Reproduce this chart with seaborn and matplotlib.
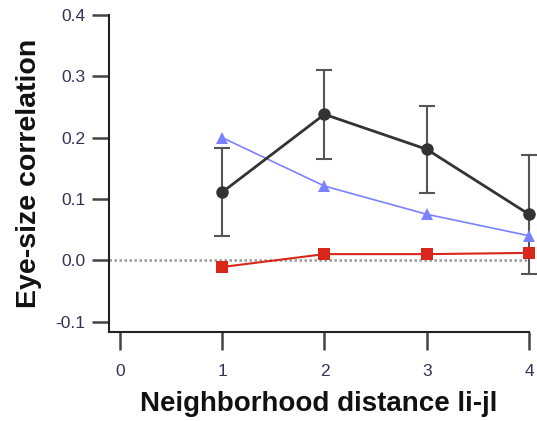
import numpy as np
import pandas as pd
import matplotlib
matplotlib.use("Agg")
import matplotlib.pyplot as plt
import seaborn as sns

# values
distance   = [1, 2, 3, 4]
corr_black = [0.111, 0.238, 0.181, 0.075]
err_black  = [0.072, 0.073, 0.071, 0.097]
corr_blue  = [0.200, 0.121, 0.075, 0.040]
corr_red   = [-0.011, 0.010, 0.010, 0.012]

x_ticks = [0, 1, 2, 3, 4]
y_ticks = [-0.1, 0.0, 0.1, 0.2, 0.3, 0.4]

sns.set_style("ticks")
plt.rcParams['font.family'] = ['Liberation Sans', 'DejaVu Sans']

df = pd.DataFrame({
    "distance": distance * 3,
    "corr": corr_black + corr_blue + corr_red,
    "series": ["black"] * 4 + ["blue"] * 4 + ["red"] * 4,
})

fig = plt.figure(figsize=(5.37, 4.21), dpi=100)
ax = fig.add_axes([0.203, 0.2114, 0.782, 0.753])

ax.axhline(0, color="#999999", lw=1.8, ls=(0, (1, 1)), zorder=1)

ax.errorbar(distance, corr_black, yerr=err_black, fmt="none", ecolor="#555555",
            elinewidth=1.5, capsize=6, capthick=1.5, zorder=2, clip_on=False)

palette = {"black": "#333333", "blue": "#7a82ff", "red": "#d8261a"}
markers = {"black": "o", "blue": "^", "red": "s"}
widths  = {"black": 2.0, "blue": 1.2, "red": 1.5}
for name in ["red", "blue", "black"]:
    sub = df[df["series"] == name]
    sns.lineplot(data=sub, x="distance", y="corr", ax=ax, color=palette[name],
                 marker=markers[name], markersize=9, markeredgewidth=0,
                 lw=widths[name], clip_on=False, zorder=3, legend=False)

ax.set_xlim(-0.107, 4)
ax.set_ylim(-0.117, 0.4)
ax.set_xticks(x_ticks)
ax.set_xticklabels([str(v) for v in x_ticks])
ax.set_yticks(y_ticks)
ax.set_yticklabels([f"{v:.1f}" for v in y_ticks])

for s in ["top", "right"]:
    ax.spines[s].set_visible(False)
for s in ["left", "bottom"]:
    ax.spines[s].set_linewidth(1.5)
    ax.spines[s].set_color("#222222")

ax.tick_params(axis="x", length=13, width=1.8, color="#444444", pad=10,
               labelsize=12.5, labelcolor="#333355")
ax.tick_params(axis="y", length=12, width=1.8, color="#444444", pad=5,
               labelsize=12.5, labelcolor="#333355")

ax.set_xlabel("Neighborhood distance li-jl", fontsize=20, fontweight="bold",
              color="#111111", labelpad=9)
ax.set_ylabel("Eye-size correlation", fontsize=20.5, fontweight="bold",
              color="#111111", labelpad=10)

fig.savefig("out.png", dpi=100)
